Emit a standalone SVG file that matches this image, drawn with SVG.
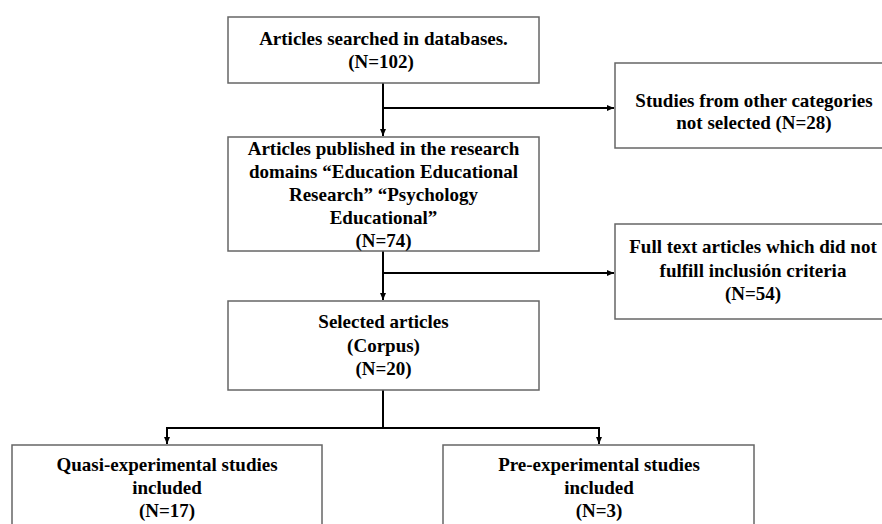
<svg xmlns="http://www.w3.org/2000/svg" width="882" height="524" viewBox="0 0 882 524">
<style>
.box{fill:#fff;stroke:#666;stroke-width:1.5}
.t{font-family:"Liberation Serif","Times New Roman",serif;font-weight:bold;font-size:19px;fill:#000;text-anchor:middle}
.c{fill:none;stroke:#000;stroke-width:2}
</style>
<defs>
<marker id="ah" markerUnits="userSpaceOnUse" markerWidth="8" markerHeight="8" refX="7" refY="4" orient="auto">
<path d="M0,1 L7,4 L0,7 Z" fill="#000"/>
</marker>
</defs>
<rect width="882" height="524" fill="#fff"/>
<g id="connectors">
<path class="c" d="M383,83 V136" marker-end="url(#ah)"/>
<path class="c" d="M383,108 H614" marker-end="url(#ah)"/>
<path class="c" d="M383,251 V300" marker-end="url(#ah)"/>
<path class="c" d="M383,273 H614" marker-end="url(#ah)"/>
<path class="c" d="M383,390 V428 M167,428 H599"/>
<path class="c" d="M167,427 V444" marker-end="url(#ah)"/>
<path class="c" d="M599,427 V444" marker-end="url(#ah)"/>
</g>
<g id="n1">
<rect class="box" x="228" y="17" width="311" height="66"/>
<text class="t" x="383.5" y="45">Articles searched in databases.</text>
<text class="t" x="381" y="68">(N=102)</text>
</g>
<g id="n2">
<rect class="box" x="615" y="63" width="290" height="85"/>
<text class="t" x="754" y="107">Studies from other categories</text>
<text class="t" x="754" y="129">not selected (N=28)</text>
</g>
<g id="n3">
<rect class="box" x="228" y="137" width="311" height="114"/>
<text class="t" x="383.5" y="155">Articles published in the research</text>
<text class="t" x="383.5" y="178">domains “Education Educational</text>
<text class="t" x="383.5" y="201">Research” “Psychology</text>
<text class="t" x="383.5" y="224">Educational”</text>
<text class="t" x="383.5" y="247">(N=74)</text>
</g>
<g id="n4">
<rect class="box" x="615" y="224" width="290" height="95"/>
<text class="t" x="753" y="253">Full text articles which did not</text>
<text class="t" x="753" y="277">fulfill inclusión criteria</text>
<text class="t" x="753" y="300">(N=54)</text>
</g>
<g id="n5">
<rect class="box" x="228" y="301" width="311" height="89"/>
<text class="t" x="383.5" y="328">Selected articles</text>
<text class="t" x="383.5" y="352">(Corpus)</text>
<text class="t" x="383.5" y="375">(N=20)</text>
</g>
<g id="n6">
<rect class="box" x="12" y="445" width="310" height="100"/>
<text class="t" x="167" y="471">Quasi-experimental studies</text>
<text class="t" x="167" y="494">included</text>
<text class="t" x="167" y="517">(N=17)</text>
</g>
<g id="n7">
<rect class="box" x="443" y="445" width="311" height="100"/>
<text class="t" x="599" y="471">Pre-experimental studies</text>
<text class="t" x="599" y="494">included</text>
<text class="t" x="599" y="517">(N=3)</text>
</g>
</svg>
